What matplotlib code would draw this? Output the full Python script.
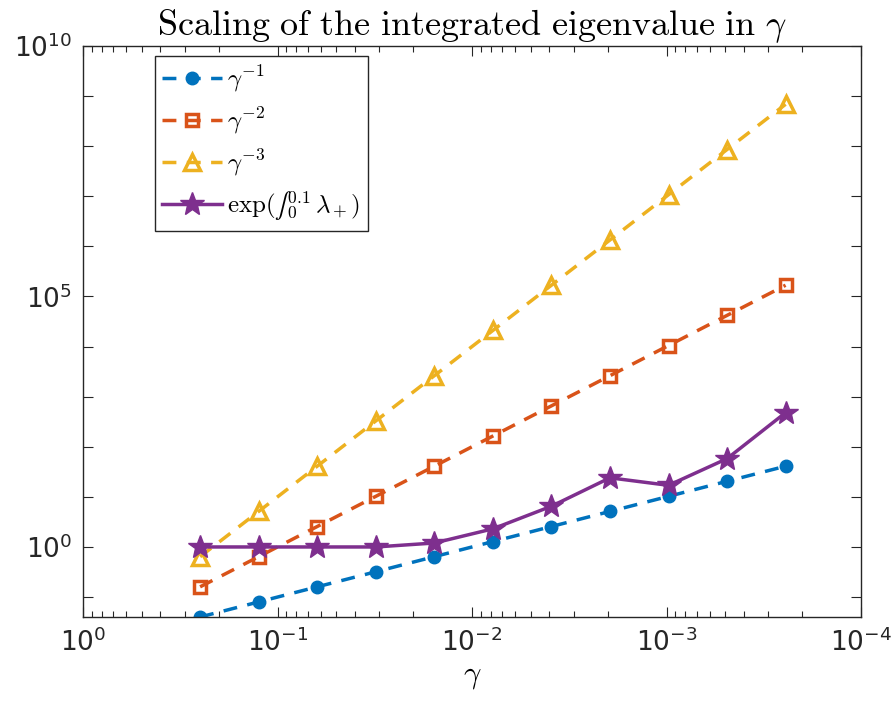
"""
Scaling of the integrated eigenvalue in gamma (log-log, reversed x)
"""

import matplotlib
matplotlib.use('Agg')
import matplotlib.pyplot as plt
from matplotlib.font_manager import FontProperties
from matplotlib.ticker import LogLocator, NullFormatter, FixedLocator

plt.rcParams['mathtext.fontset'] = 'custom'
plt.rcParams['mathtext.rm'] = 'DejaVu Sans'
plt.rcParams['font.family'] = ['DejaVu Sans']

# data
gamma = [0.25, 0.125, 0.0625, 0.03125, 0.015625, 0.0078125, 0.00390625,
         0.001953125, 0.0009765625, 0.00048828125, 0.000244140625]
ref_inv1 = [0.04, 0.08, 0.16, 0.32, 0.64, 1.28, 2.56, 5.12, 10.24, 20.48, 40.96]
ref_inv2 = [0.16, 0.64, 2.56, 10.24, 40.96, 163.84, 655.36, 2621.44,
            10485.76, 41943.04, 167772.16]
ref_inv3 = [0.64, 5.12, 40.96, 327.68, 2621.44, 20971.52, 167772.16,
            1342177.28, 10737418.24, 85899345.92, 687194767.36]
exp_int = [1.0, 1.0, 1.0, 1.0, 1.2, 2.3, 6.5, 24.0, 17.0, 58.0, 480.0]

x_ticks = [1e0, 1e-1, 1e-2, 1e-3, 1e-4]
x_ticklabels = [r'$\mathregular{10^{0}}$', r'$\mathregular{10^{-1}}$',
                r'$\mathregular{10^{-2}}$', r'$\mathregular{10^{-3}}$',
                r'$\mathregular{10^{-4}}$']
y_ticks = [1e0, 1e5, 1e10]
y_ticklabels = [r'$\mathregular{10^{0}}$', r'$\mathregular{10^{5}}$',
                r'$\mathregular{10^{10}}$']
y_minor = [1e-1, 1e1, 1e2, 1e3, 1e4, 1e6, 1e7, 1e8, 1e9]

blue = '#0072BD'
red = '#D95319'
yellow = '#EDB120'
purple = '#7E2F8E'
dark = '#262626'

fig = plt.figure(figsize=(8.91, 7.13), dpi=100)
ax = fig.add_axes([83 / 891, 96 / 713, 778 / 891, 571 / 713])

ax.plot(gamma, ref_inv1, '--', color=blue, lw=2.5, marker='o', ms=9,
        mfc=blue, mec=blue, dashes=(4, 3), label=r'$\gamma^{-1}$')
ax.plot(gamma, ref_inv2, '--', color=red, lw=2.5, marker='s', ms=9,
        mfc='none', mec=red, mew=2.5, dashes=(4, 3), label=r'$\gamma^{-2}$')
ax.plot(gamma, ref_inv3, '--', color=yellow, lw=2.5, marker='^', ms=12,
        mfc='none', mec=yellow, mew=2.5, dashes=(4, 3), label=r'$\gamma^{-3}$')
ax.plot(gamma, exp_int, '-', color=purple, lw=2.5, marker='*', ms=18,
        mfc=purple, mec=purple, label='$\\exp(\u222b_0^{0.1}\\,\\lambda_+)$')

ax.set_xscale('log')
ax.set_yscale('log')
ax.set_xlim(1e0, 1e-4)
ax.set_ylim(0.04, 1e10)

ax.set_xticks(x_ticks)
ax.set_xticklabels(x_ticklabels)
ax.xaxis.set_minor_locator(LogLocator(base=10, subs=[2, 3, 4, 5, 6, 7, 8, 9], numticks=20))
ax.xaxis.set_minor_formatter(NullFormatter())
ax.set_yticks(y_ticks)
ax.set_yticklabels(y_ticklabels)
ax.yaxis.set_minor_locator(FixedLocator(y_minor))
ax.yaxis.set_minor_formatter(NullFormatter())

ax.tick_params(which='both', direction='in', top=True, right=True,
               colors=dark, labelsize=19, width=0.8)
ax.tick_params(which='major', length=7, pad=8)
ax.tick_params(axis='x', which='minor', length=4)
ax.tick_params(axis='y', which='minor', length=7)
for s in ax.spines.values():
    s.set_color(dark)
    s.set_linewidth(1.0)

cm_title = FontProperties(size=26, math_fontfamily='cm')
ax.set_title(r'$\mathrm{Scaling\ of\ the\ integrated\ eigenvalue\ in}\ \gamma$',
             fontproperties=cm_title, pad=8)
ax.set_xlabel(r'$\gamma$', fontproperties=FontProperties(size=22, math_fontfamily='cm'),
              labelpad=4)

leg = ax.legend(loc='upper left', bbox_to_anchor=(0.092, 0.982),
                prop=FontProperties(size=18, math_fontfamily='cm'),
                frameon=True, fancybox=False, edgecolor=dark, framealpha=1,
                handlelength=2.4, handletextpad=0.2, borderpad=0.3,
                labelspacing=0.45, borderaxespad=0)
leg.get_frame().set_linewidth(1.0)

fig.savefig('out.png', dpi=100)
